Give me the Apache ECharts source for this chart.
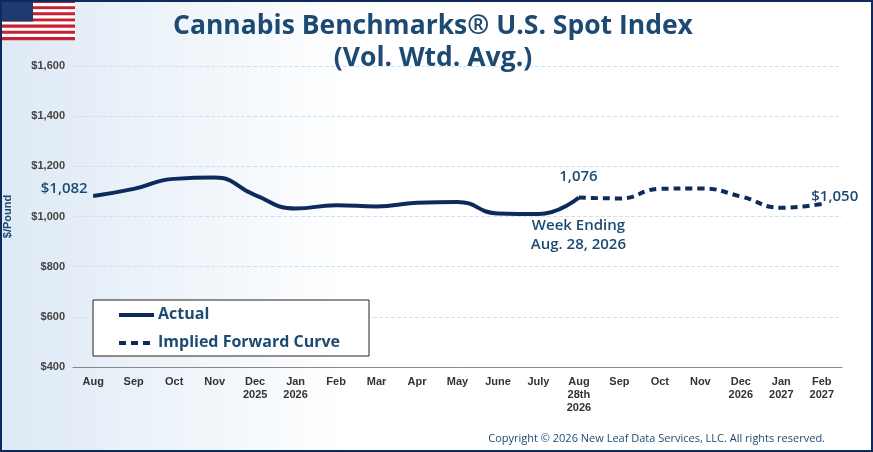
<!DOCTYPE html><html><head><meta charset="utf-8"><script src="https://cdn.jsdelivr.net/npm/echarts@6/dist/echarts.min.js"></script>
<style>html,body{margin:0;padding:0}#c{width:873px;height:452px}</style></head><body><div id="c"></div><script>
var categories=['Aug','Sep','Oct','Nov','Dec\n2025','Jan\n2026','Feb','Mar','Apr','May','June','July','Aug\n28th\n2026','Sep','Oct','Nov','Dec\n2026','Jan\n2027','Feb\n2027'];
var actual=[1082,1110,1150,1155,1085,1032,1045,1040,1055,1058,1012,1010,1076,null,null,null,null,null,null];
var forward=[null,null,null,null,null,null,null,null,null,null,null,null,1076,1072,1110,1112,1080,1035,1050];
var yTicks=[400,600,800,1000,1200,1400,1600];
var navy='#0d2a5c', tc='#1d4a73';
var ch=echarts.init(document.getElementById('c'));
function hid(v){return {value:v,symbol:'none'};}
var lf={fontSize:15,fontWeight:600,color:tc,fontFamily:'Open Sans'};
var act=actual.map(function(v,i){
 if(i===0)return {value:v,symbol:'circle',symbolSize:1,label:Object.assign({show:true,formatter:'$1,082',position:[-52,-14]},lf)};
 if(i===12)return {value:v,symbol:'circle',symbolSize:1,label:Object.assign({show:true,formatter:'{a|1,076}\n\n\n{b|Week Ending}\n{b|Aug. 28, 2026}',position:[0,-30],align:'center',rich:{a:Object.assign({align:'center',lineHeight:19},lf),b:Object.assign({align:'center',lineHeight:19},lf)}},lf)};
 return hid(v);});
var fw=forward.map(function(v,i){
 if(i===18)return {value:v,symbol:'circle',symbolSize:1,label:Object.assign({show:true,formatter:'$1,050',position:[-10,-14]},lf)};
 return hid(v);});
var flag=[];
for(var s=0;s<13;s++)flag.push({type:'rect',shape:{x:0,y:s*40/13,width:75,height:40/13+0.2},style:{fill:s%2?'#fff':'#c8202f'}});
flag.push({type:'rect',shape:{x:0,y:0,width:33,height:40*7/13},style:{fill:'#1f3a6e'}});
ch.setOption({
 animation:false,
 backgroundColor:{type:'linear',x:0,y:0,x2:1,y2:0,colorStops:[{offset:0,color:'#dde9f5'},{offset:0.4,color:'#ffffff'},{offset:1,color:'#ffffff'}]},
 title:{text:'Cannabis Benchmarks® U.S. Spot Index\n(Vol. Wtd. Avg.)',left:428,top:5,textAlign:'center',textStyle:{fontSize:26.5,fontWeight:'bold',color:tc,fontFamily:'Open Sans',lineHeight:32}},
 grid:{left:73,right:31,top:66,bottom:85,outerBoundsMode:'none'},
 xAxis:{type:'category',data:categories,boundaryGap:true,axisLine:{lineStyle:{color:'#888'}},axisTick:{show:false},axisLabel:{fontSize:11,fontWeight:'bold',color:'#333',interval:0,lineHeight:13,fontFamily:'Liberation Sans'}},
 yAxis:{type:'value',min:400,max:1600,interval:200,name:'$/Pound',nameLocation:'middle',nameGap:60,nameTextStyle:{fontSize:11,fontWeight:'bold',color:tc},axisLabel:{fontSize:11,fontWeight:'bold',color:'#444',formatter:function(v){return '$'+v.toLocaleString('en-US');}},splitLine:{lineStyle:{type:'dashed',color:'#cfe0ee'}},axisLine:{show:false}},
 series:[
  {name:'Actual',type:'line',smooth:true,showSymbol:true,data:act,itemStyle:{color:navy},lineStyle:{color:navy,width:4}},
  {name:'Implied Forward Curve',type:'line',smooth:true,showSymbol:true,data:fw,itemStyle:{color:navy},lineStyle:{color:navy,width:4,type:[7,5]}}
 ],
 graphic:[
  {type:'rect',shape:{x:1,y:1,width:871,height:450},style:{fill:'none',stroke:navy,lineWidth:2},z:100},
  {type:'group',left:0,top:0,children:flag},
  {type:'rect',shape:{x:93,y:300,width:276,height:56},style:{fill:'#fff',stroke:'#222',lineWidth:1},z:50},
  {type:'line',shape:{x1:119,y1:315,x2:154,y2:315},style:{stroke:navy,lineWidth:4},z:51},
  {type:'line',shape:{x1:119,y1:343,x2:154,y2:343},style:{stroke:navy,lineWidth:4,lineDash:[7,5]},z:51},
  {type:'text',x:158,y:306,style:{text:'Actual',fontSize:16,fontWeight:'bold',fill:tc,fontFamily:'Open Sans'},z:51},
  {type:'text',x:158,y:334,style:{text:'Implied Forward Curve',fontSize:16,fontWeight:'bold',fill:tc,fontFamily:'Open Sans'},z:51},
  {type:'text',right:48,top:433,style:{text:'Copyright © 2026 New Leaf Data Services, LLC. All rights reserved.',fontSize:11,fill:tc,fontFamily:'Open Sans'}}
 ]
});
</script></body></html>
